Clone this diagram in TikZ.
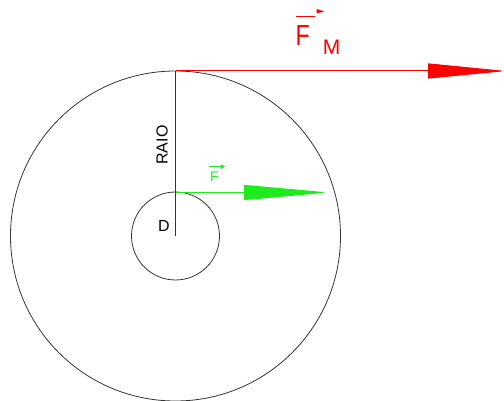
\documentclass[tikz,border=0pt]{standalone}
\usepackage{fontspec}
\setmainfont{Liberation Sans}
\usetikzlibrary{arrows.meta}
\definecolor{fred}{RGB}{255,0,0}
\definecolor{fgreen}{RGB}{30,235,30}
\begin{document}
\begin{tikzpicture}[x=1pt,y=-1pt,
  thinblack/.style={draw=black!80,line width=0.8pt},
  lbl/.style={inner sep=0pt,anchor=center},
  redvec/.style={color=fred,line width=1pt,-{Triangle[length=78pt,width=15pt]}},
  greenvec/.style={color=fgreen,line width=1pt,-{Triangle[length=85pt,width=15pt]}}]
\useasboundingbox (0,0) rectangle (504,401);
\coordinate (C) at (175.5,236);
\coordinate (T) at (175.5,71);
\coordinate (S) at (175.5,192.5);
\coordinate (RE) at (506,71);
\coordinate (GE) at (329,192.5);
% circles
\draw[thinblack] (C) circle (165);
\draw[thinblack] (C) circle (44);
% radius line
\draw[thinblack] (T) -- (C);
% force arrows
\draw[redvec] (T) -- (RE);
\draw[greenvec] (S) -- (GE);
% labels
\node[lbl,rotate=90] (raio) at (162,145) {\fontsize{16}{16}\selectfont RAIO};
\node[lbl] (d) at (164,226) {\fontsize{16}{16}\selectfont D};
\node[lbl,text=fgreen] (fg) at (214.5,177) {\fontsize{14}{14}\selectfont F};
\node[lbl,text=fred,xscale=0.8] (fr) at (302.7,36) {\fontsize{29}{29}\selectfont F};
\node[lbl,text=fred] (fm) at (331.5,47) {\fontsize{21}{21}\selectfont M};
% vector marks
\coordinate (gv1) at (209,166.7);
\coordinate (gv2) at (225,166.7);
\draw[color=fgreen,line width=0.9pt,-{Triangle[length=4pt,width=4.5pt]}] (gv1) -- (gv2);
\coordinate (rv1) at (296,16.7);
\coordinate (rv2) at (315,16.7);
\draw[color=fred,line width=1.2pt] (rv1) -- (rv2);
\fill[fred] (316.7,9) -- (324,11.5) -- (316.7,13.5) -- cycle;
\end{tikzpicture}
\end{document}
